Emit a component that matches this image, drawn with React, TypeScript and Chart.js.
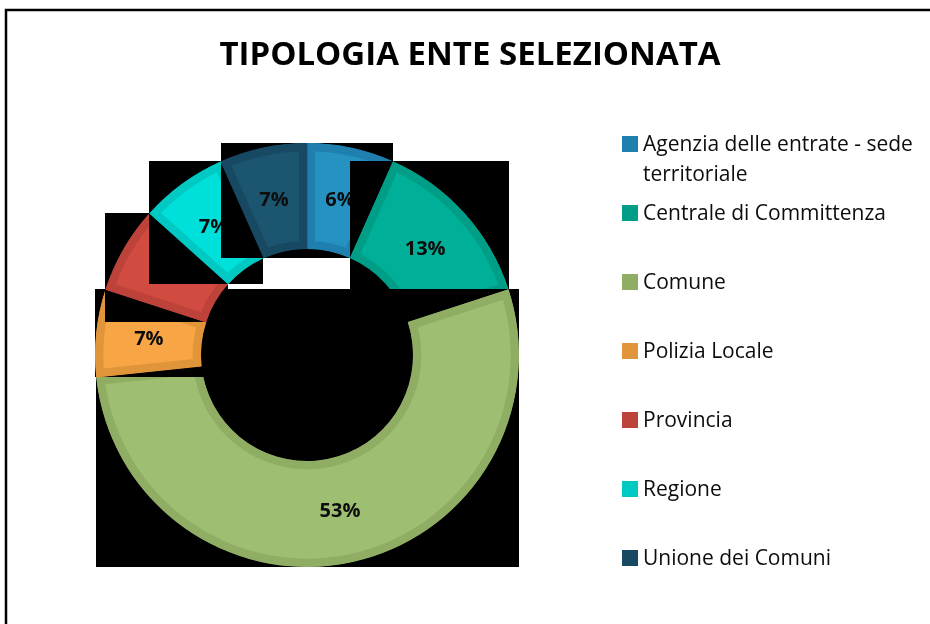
import React, { useEffect, useRef } from 'react';
import { Chart, registerables } from 'chart.js';

Chart.register(...registerables);

const TITLE = 'TIPOLOGIA ENTE SELEZIONATA';
const categories = [
  'Agenzia delle entrate - sede territoriale',
  'Centrale di Committenza',
  'Comune',
  'Polizia Locale',
  'Provincia',
  'Regione',
  'Unione dei Comuni',
];
const legendLines = [
  ['Agenzia delle entrate - sede', 'territoriale'],
  ['Centrale di Committenza'],
  ['Comune'],
  ['Polizia Locale'],
  ['Provincia'],
  ['Regione'],
  ['Unione dei Comuni'],
];
const values = [1, 2, 8, 1, 1, 1, 1];
const percentLabels = ['6%', '13%', '53%', '7%', '7%', '7%', '7%'];
const fillColors = ['#2592C2', '#00AF97', '#9EBF71', '#F8A545', '#D24B41', '#00E0DA', '#1B5570'];
const bandColors = ['#1F7FAE', '#009E86', '#90AD64', '#E0953A', '#BD423A', '#00C9C3', '#174A62'];

function arcBox(p: any) {
  const pts: [number, number][] = [];
  const { x, y, startAngle, endAngle, innerRadius, outerRadius } = p;
  for (const a of [startAngle, endAngle]) {
    pts.push([x + Math.cos(a) * outerRadius, y + Math.sin(a) * outerRadius]);
    pts.push([x + Math.cos(a) * innerRadius, y + Math.sin(a) * innerRadius]);
  }
  const half = Math.PI / 2;
  for (let k = Math.ceil(startAngle / half); k * half <= endAngle; k++) {
    const a = k * half;
    pts.push([x + Math.cos(a) * outerRadius, y + Math.sin(a) * outerRadius]);
  }
  const xs = pts.map((q) => q[0]);
  const ys = pts.map((q) => q[1]);
  return {
    x0: Math.min(...xs),
    y0: Math.min(...ys),
    x1: Math.max(...xs),
    y1: Math.max(...ys),
  };
}

const excelLook = {
  id: 'excelLook',
  beforeDatasetDraw(chart: any, args: any) {
    const ctx = chart.ctx;
    const meta = args.meta;
    meta.data.forEach((arc: any, i: number) => {
      const p = arc.getProps(['x', 'y', 'startAngle', 'endAngle', 'innerRadius', 'outerRadius'], true);
      const b = arcBox(p);
      ctx.save();
      ctx.fillStyle = '#000000';
      ctx.fillRect(Math.round(b.x0), Math.round(b.y0), Math.round(b.x1 - b.x0), Math.round(b.y1 - b.y0));
      ctx.restore();
      arc.draw(ctx, chart.chartArea);
      const pos = arc.tooltipPosition(true);
      ctx.save();
      ctx.fillStyle = '#0d0d0d';
      ctx.font = 'bold 20px "Open Sans"';
      ctx.textAlign = 'center';
      ctx.textBaseline = 'middle';
      ctx.fillText(percentLabels[i], pos.x, pos.y + 1);
      ctx.restore();
    });
    return false;
  },
  afterDraw(chart: any) {
    const ctx = chart.ctx;
    ctx.save();
    // frame
    ctx.strokeStyle = '#000000';
    ctx.lineWidth = 2.5;
    ctx.strokeRect(6, 10, 1000, 1000);
    // title
    ctx.fillStyle = '#000000';
    ctx.font = 'bold 33px "Open Sans"';
    ctx.textAlign = 'center';
    ctx.textBaseline = 'middle';
    ctx.fillText(TITLE, 470, 56);
    // legend
    ctx.textAlign = 'left';
    ctx.font = '21px "Open Sans"';
    categories.forEach((_, i) => {
      const cy = 144 + i * 69;
      ctx.fillStyle = bandColors[i];
      ctx.fillRect(622, cy - 8, 16, 16);
      ctx.fillStyle = '#0d0d0d';
      legendLines[i].forEach((line, j) => {
        ctx.fillText(line, 643, cy + 1 + j * 30);
      });
    });
    ctx.restore();
  },
};

export default function App() {
  const ref = useRef<HTMLCanvasElement | null>(null);
  useEffect(() => {
    document.body.style.margin = '0';
    const canvas = ref.current;
    if (!canvas) return;
    const chart = new Chart(canvas, {
      type: 'doughnut',
      data: {
        labels: categories,
        datasets: [
          {
            data: values,
            backgroundColor: fillColors,
            borderColor: bandColors,
            borderWidth: 8,
            borderAlign: 'inner',
          },
        ],
      },
      options: {
        responsive: false,
        animation: false,
        events: [],
        cutout: '50%',
        layout: { padding: { left: 95, top: 143, right: 411, bottom: 57 } },
        plugins: {
          legend: { display: false },
          title: { display: false },
          tooltip: { enabled: false },
        },
      },
      plugins: [excelLook],
    });
    return () => chart.destroy();
  }, []);
  return (
    <div style={{ width: 930, height: 624, position: 'relative', background: '#ffffff' }}>
      <canvas ref={ref} width={930} height={624} style={{ display: 'block' }} />
    </div>
  );
}
